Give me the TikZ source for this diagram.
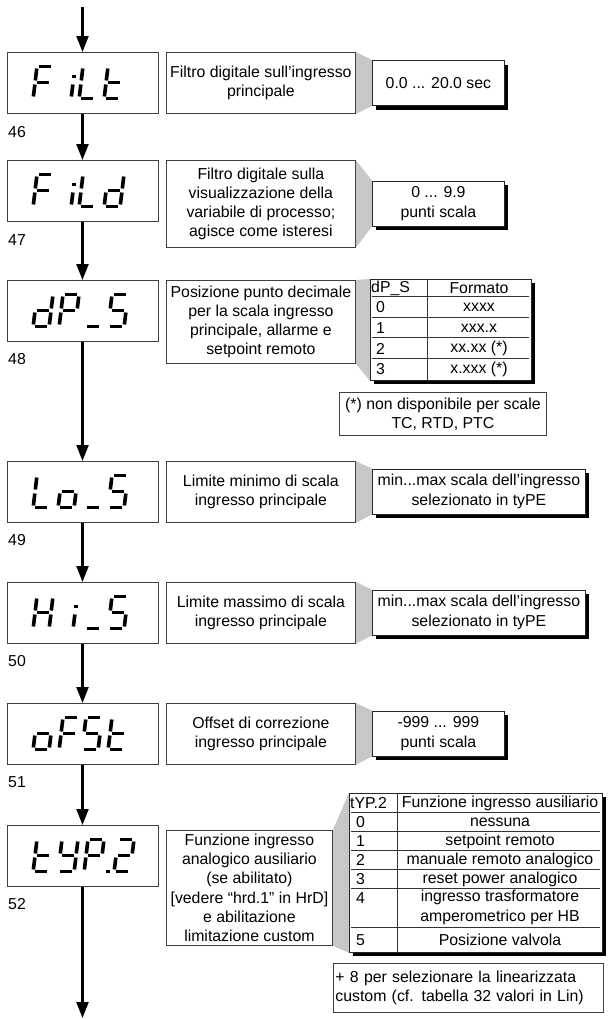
\documentclass[tikz,border=0pt]{standalone}
\usepackage{fontspec}
\setmainfont{Liberation Sans}
\usetikzlibrary{arrows.meta, shadows, backgrounds}

% segments lit for each display character
\newcommand{\lcdF}{a,f,e,g}
\newcommand{\lcdi}{e,q}
\newcommand{\lcdL}{f,e,d}
\newcommand{\lcdt}{f,e,d,g}
\newcommand{\lcdd}{b,c,d,e,g}
\newcommand{\lcdP}{a,b,f,g,e}
\newcommand{\lcdS}{a,f,g,c,d}
\newcommand{\lcdo}{g,c,d,e}
\newcommand{\lcdH}{f,e,b,c,g}
\newcommand{\lcdY}{f,b,g,c,d}
\newcommand{\lcdtwo}{a,b,g,e,d}
\newcommand{\lcdbar}{d}
\newcommand{\lcddot}{p}

% one slanted seven segment character, #1 = x, #2 = y of its top, #3 = character
\newcommand{\lcdchar}[3]{%
  \edef\lcdsegs{\csname lcd#3\endcsname}%
  \begin{scope}[shift={(#1, #2)}, xslant=0.12]
    \coordinate (lcd-a-1) at (2, 0);     \coordinate (lcd-a-2) at (14, 0);
    \coordinate (lcd-b-1) at (16, 2);    \coordinate (lcd-b-2) at (16, 14);
    \coordinate (lcd-c-1) at (16, 18);   \coordinate (lcd-c-2) at (16, 30);
    \coordinate (lcd-d-1) at (2, 32);    \coordinate (lcd-d-2) at (14, 32);
    \coordinate (lcd-e-1) at (0, 18);    \coordinate (lcd-e-2) at (0, 30);
    \coordinate (lcd-f-1) at (0, 2);     \coordinate (lcd-f-2) at (0, 14);
    \coordinate (lcd-g-1) at (2, 16);    \coordinate (lcd-g-2) at (14, 16);
    \coordinate (lcd-p-1) at (-1.8, 32); \coordinate (lcd-p-2) at (1.8, 32);
    \coordinate (lcd-q-1) at (-1.7, 10); \coordinate (lcd-q-2) at (1.7, 10);
    \foreach \s in \lcdsegs {\draw[lcdseg] (lcd-\s-1) -- (lcd-\s-2);}
  \end{scope}}
\newcommand{\lcdword}[2]{\foreach \lcdc/\lcdx in {#2} {\lcdchar{\lcdx}{#1}{\lcdc}}}

\begin{document}
\begin{tikzpicture}[x=1bp, y=-1bp, font=\fontsize{15.9}{19.3}\selectfont,
    display/.style={draw=black!75, line width=0.8bp, minimum width=151bp, minimum height=61bp, inner sep=0pt, anchor=north},
    descr/.style={draw=black!75, line width=0.8bp, fill=white, align=center, minimum width=189bp, inner sep=2bp, minimum height=61bp, anchor=north west},
    value/.style={draw=black!85, line width=0.8bp, fill=white, align=center, minimum width=132bp, minimum height=45bp, inner sep=2bp, anchor=west,
      drop shadow={shadow xshift=4bp, shadow yshift=-4bp, fill=black, opacity=1}},
    tablebox/.style={draw=black!85, line width=0.8bp, fill=white, inner sep=0pt, anchor=north west,
      drop shadow={shadow xshift=4bp, shadow yshift=-4bp, fill=black, opacity=1}},
    note/.style={draw=black!75, line width=0.8bp, align=center, inner sep=2bp, anchor=north west},
    cell/.style={inner sep=0pt},
    num/.style={anchor=west, inner sep=0pt},
    link/.style={fill=black!22},
    flow/.style={line width=2.2bp, -{Triangle[length=16bp, width=12bp]}},
    rowline/.style={line width=0.8bp, black!80},
    lcdseg/.style={line width=3.6bp, line cap=butt}]
    %\draw[lightgray, step=50] (0, 0) grid (610, 1019);
    \useasboundingbox (0, 0) rectangle (610, 1019);

    % displays
    \node[display](filt) at (82.5, 52) {};
    \node[display](fild) at (82.5, 160) {};
    \node[display](dps) at (82.5, 280) {};
    \node[display](los) at (82.5, 461) {};
    \node[display](his) at (82.5, 582) {};
    \node[display](ofst) at (82.5, 703) {};
    \node[display](typ) at (82.5, 825) {};

    \lcdword{66.5}{F/37, i/75, L/83, t/108}
    \lcdword{174.5}{F/37, i/75, L/83, d/108}
    \lcdword{294.5}{d/37, P/63, bar/89, S/112}
    \lcdword{475.5}{L/37, o/62, bar/89, S/112}
    \lcdword{596.5}{H/37, i/77, bar/89, S/112}
    \lcdword{717.5}{o/37, F/63, S/86, t/112}
    \lcdword{839.5}{t/37, Y/62, P/88, dot/112, two/118}

    \node[num](n46) at (8, 132) {46};
    \node[num](n47) at (8, 240) {47};
    \node[num](n48) at (8, 359) {48};
    \node[num](n49) at (8, 540) {49};
    \node[num](n50) at (8, 661) {50};
    \node[num](n51) at (8, 782) {51};
    \node[num](n52) at (8, 904) {52};

    \coordinate (top) at (82.5, 7);
    \coordinate (bottom) at (82.5, 1018);
    \draw[flow] (top) -- (filt.north);
    \draw[flow] (filt.south) -- (fild.north);
    \draw[flow] (fild.south) -- (dps.north);
    \draw[flow] (dps.south) -- (los.north);
    \draw[flow] (los.south) -- (his.north);
    \draw[flow] (his.south) -- (ofst.north);
    \draw[flow] (ofst.south) -- (typ.north);
    \draw[flow] (typ.south) -- (bottom);

    % descriptions
    \node[descr](filtinfo) at (166, 52) {Filtro digitale sull’ingresso\\principale};
    \node[descr, minimum height=87bp](fildinfo) at (166, 160) {Filtro digitale sulla\\visualizzazione della\\variabile di processo;\\agisce come isteresi};
    \node[descr, minimum height=83bp](dpsinfo) at (166, 280) {Posizione punto decimale\\per la scala ingresso\\principale, allarme e\\setpoint remoto};
    \node[descr](losinfo) at (166, 461) {Limite minimo di scala\\ingresso principale};
    \node[descr](hisinfo) at (166, 582) {Limite massimo di scala\\ingresso principale};
    \node[descr](ofstinfo) at (166, 703) {Offset di correzione\\ingresso principale};
    \node[descr, minimum width=166bp, minimum height=115bp](typinfo) at (166, 830) {Funzione ingresso\\analogico ausiliario\\(se abilitato)\\{[}vedere “hrd.1” in HrD]\\e abilitazione\\limitazione custom};

    % ranges
    \node[value](filtval) at (372, 83) {0.0 ... 20.0 sec};
    \node[value](fildval) at (372, 203.5) {0 ... 9.9\\punti scala};
    \node[value, minimum width=213bp](losval) at (372, 491.5) {min...max scala dell’ingresso\\selezionato in tyPE};
    \node[value, minimum width=213bp](hisval) at (372, 612.5) {min...max scala dell’ingresso\\selezionato in tyPE};
    \node[value](ofstval) at (372, 733.5) {-999 ... 999\\punti scala};

    % decimal point table
    \node[tablebox, minimum width=161bp, minimum height=101bp](dpstab) at (370, 279) {};
    \draw[rowline] (427, 279) -- (427, 380);
    \foreach \y in {296, 317, 337, 358}
        \draw[rowline] (372, \y) -- (529, \y);
    \node[cell, anchor=west](dpshead) at (371, 288) {dP\_S};
    \node[cell](fmthead) at (479, 288) {Formato};
    \foreach \v/\f [count=\r] in {0/xxxx, 1/xxx.x, 2/xx.xx (*), 3/x.xxx (*)} {
        \node[cell, anchor=west](dpsv\r) at (376, 287 + 20.5*\r) {\v};
        \node[cell](dpsf\r) at (479, 287 + 20.5*\r) {\f};
    }
    \node[note, minimum width=207bp, minimum height=43bp](dpsnote) at (339, 392) {(*) non disponibile per scale\\TC, RTD, PTC};

    % auxiliary input table
    \node[tablebox, minimum width=253bp, minimum height=159bp](typtab) at (349, 793) {};
    \draw[rowline] (397, 793) -- (397, 952);
    \foreach \y in {812, 831, 850, 869, 888, 927}
        \draw[rowline] (351, \y) -- (600, \y);
    \node[cell, anchor=west](typhead) at (350, 803) {tYP.2};
    \node[cell](funhead) at (500, 803) {Funzione ingresso ausiliario};
    \foreach \v/\f [count=\r] in {0/nessuna, 1/setpoint remoto, 2/manuale remoto analogico, 3/reset power analogico} {
        \node[cell, anchor=west](typv\r) at (356, 803 + 19*\r) {\v};
        \node[cell](typf\r) at (500, 803 + 19*\r) {\f};
    }
    \node[cell, anchor=west](typv5) at (356, 898) {4};
    \node[cell, align=center](typf5) at (500, 907.5) {ingresso trasformatore\\amperometrico per HB};
    \node[cell, anchor=west](typv6) at (356, 940) {5};
    \node[cell](typf6) at (500, 940) {Posizione valvola};
    \node[note, align=left, text width=266bp, minimum height=49bp](typnote) at (333, 963) {+ 8 per selezionare la linearizzata\\custom (cf. tabella 32 valori in Lin)};

    % grey callouts behind the boxes
    \begin{pgfonlayer}{background}
        \fill[link] (filtinfo.north east) -- (filtval.north west) -- (filtval.south west) -- (filtinfo.south east) -- cycle;
        \fill[link] (fildinfo.north east) -- (fildval.north west) -- (fildval.south west) -- (fildinfo.south east) -- cycle;
        \fill[link] (dpsinfo.north east) -- (dpstab.north west) -- (dpstab.south west) -- (dpsinfo.south east) -- cycle;
        \fill[link] (losinfo.north east) -- (losval.north west) -- (losval.south west) -- (losinfo.south east) -- cycle;
        \fill[link] (hisinfo.north east) -- (hisval.north west) -- (hisval.south west) -- (hisinfo.south east) -- cycle;
        \fill[link] (ofstinfo.north east) -- (ofstval.north west) -- (ofstval.south west) -- (ofstinfo.south east) -- cycle;
        \fill[link] (typinfo.north east) -- (typtab.north west) -- (typtab.south west) -- (typinfo.south east) -- cycle;
    \end{pgfonlayer}
\end{tikzpicture}
\end{document}
